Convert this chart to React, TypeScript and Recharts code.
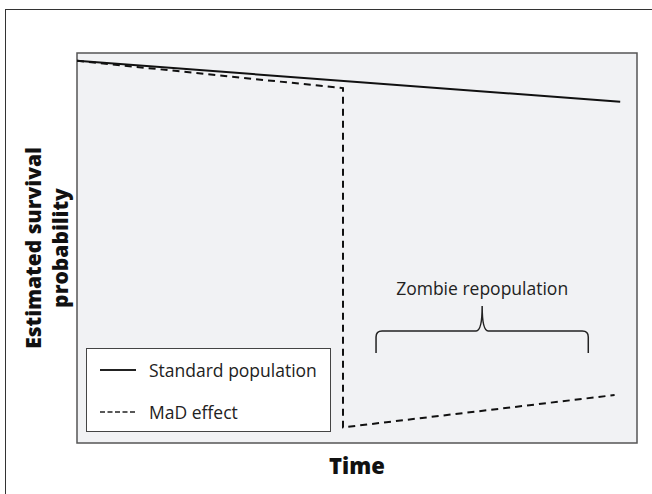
import React from 'react';
import { LineChart, Line, XAxis, YAxis, Legend, ReferenceArea, Label } from 'recharts';

// time on a 0-100 scale, survival probability 0-1
const standardTime = [0, 97];
const standardSurvival = [0.98, 0.875];

const madTime = [0, 47.5, 47.5, 96];
const madSurvival = [0.98, 0.91, 0.04, 0.123];

const seriesNames = ['Standard population', 'MaD effect'];
const dashes = ['', '7 5'];

// brace over the repopulation stretch (time from / to, probability bottom / top)
const braceTime = [53.4, 91.3];
const braceLevel = [0.231, 0.351];
const braceText = 'Zombie repopulation';

const standardData = standardTime.map((t, i) => ({ t, v: standardSurvival[i] }));
const madData = madTime.map((t, i) => ({ t, v: madSurvival[i] }));

const FONT = '"Open Sans", "DejaVu Sans", sans-serif';

const Brace = (props: any) => {
  const { x, y, width, height } = props;
  const mid = x + width / 2;
  const hy = y + height * 0.53;
  const r = 6;
  const d = `M${x},${y + height} L${x},${hy + r} Q${x},${hy} ${x + r},${hy} L${mid - r},${hy} Q${mid},${hy} ${mid},${y}` +
    ` Q${mid},${hy} ${mid + r},${hy} L${x + width - r},${hy} Q${x + width},${hy} ${x + width},${hy + r} L${x + width},${y + height}`;
  return (
    <g>
      <path d={d} fill="none" stroke="#222" strokeWidth={1.5} />
      <text x={mid} y={y - 18} textAnchor="middle" dominantBaseline="central" fontFamily={FONT} fontSize={17.5} fill="#222">
        {braceText}
      </text>
    </g>
  );
};

const renderLegend = () => (
  <div style={{ border: '1.5px solid #444', background: '#fff', width: 245, height: 84, boxSizing: 'border-box', padding: '5px 0 0 13px' }}>
    {seriesNames.map((name, i) => (
      <div key={name} style={{ display: 'flex', alignItems: 'center', height: 32, marginBottom: i === 0 ? 10 : 0 }}>
        <svg width={36} height={10} style={{ marginRight: 13 }}>
          <line x1={0} y1={5} x2={36} y2={5} stroke="#222" strokeWidth={i === 1 ? 1.5 : 2} strokeDasharray={i === 1 ? '5 2.5' : undefined} />
        </svg>
        <span style={{ fontFamily: FONT, fontSize: 17.5, color: '#222' }}>{name}</span>
      </div>
    ))}
  </div>
);

const YLabel = (props: any) => {
  const { viewBox } = props;
  const cy = viewBox.y + viewBox.height / 2;
  const x = viewBox.x;
  return (
    <g fontFamily={FONT} fontWeight={800} fontSize={21} fill="#111">
      <text x={x - 44} y={cy} textAnchor="middle" dominantBaseline="central" transform={`rotate(-90 ${x - 44} ${cy})`}>Estimated survival</text>
      <text x={x - 17} y={cy} textAnchor="middle" dominantBaseline="central" transform={`rotate(-90 ${x - 17} ${cy})`}>probability</text>
    </g>
  );
};

const XLabel = (props: any) => {
  const { viewBox } = props;
  return (
    <text x={viewBox.x + viewBox.width / 2} y={viewBox.y + viewBox.height + 22} textAnchor="middle" dominantBaseline="central"
      fontFamily={FONT} fontWeight={800} fontSize={22} fill="#111">Time</text>
  );
};

export default function App() {
  return (
    <div style={{ position: 'absolute', left: 0, top: 0, width: 652, height: 494, overflow: 'hidden', background: '#fff' }}>
      <div style={{ position: 'absolute', left: 5, top: 9, width: 700, height: 600, borderLeft: '1.5px solid #333', borderTop: '1.5px solid #333' }} />
      <div style={{ position: 'absolute', left: 0, top: 0 }}>
        <LineChart width={652} height={494} margin={{ top: 53, right: 15, bottom: 51, left: 77 }}>
          <XAxis type="number" dataKey="t" domain={[0, 100]} hide allowDataOverflow />
          <YAxis type="number" dataKey="v" domain={[0, 1]} hide allowDataOverflow />
          <ReferenceArea x1={0} x2={100} y1={0} y2={1} fill="#f1f2f4" fillOpacity={1} stroke="#555" strokeWidth={1.5}>
            <Label content={<YLabel />} />
            <Label content={<XLabel />} />
          </ReferenceArea>
          <ReferenceArea x1={braceTime[0]} x2={braceTime[1]} y1={braceLevel[0]} y2={braceLevel[1]} shape={<Brace />} />
          <Legend layout="vertical" align="center" verticalAlign="middle" content={renderLegend}
            wrapperStyle={{ left: 86, top: 348, width: 245 }} />
          <Line data={standardData} dataKey="v" name={seriesNames[0]} type="linear" stroke="#111" strokeWidth={2}
            dot={false} activeDot={false} isAnimationActive={false} />
          <Line data={madData} dataKey="v" name={seriesNames[1]} type="linear" stroke="#111" strokeWidth={2}
            strokeDasharray={dashes[1]} dot={false} activeDot={false} isAnimationActive={false} />
        </LineChart>
      </div>
    </div>
  );
}
